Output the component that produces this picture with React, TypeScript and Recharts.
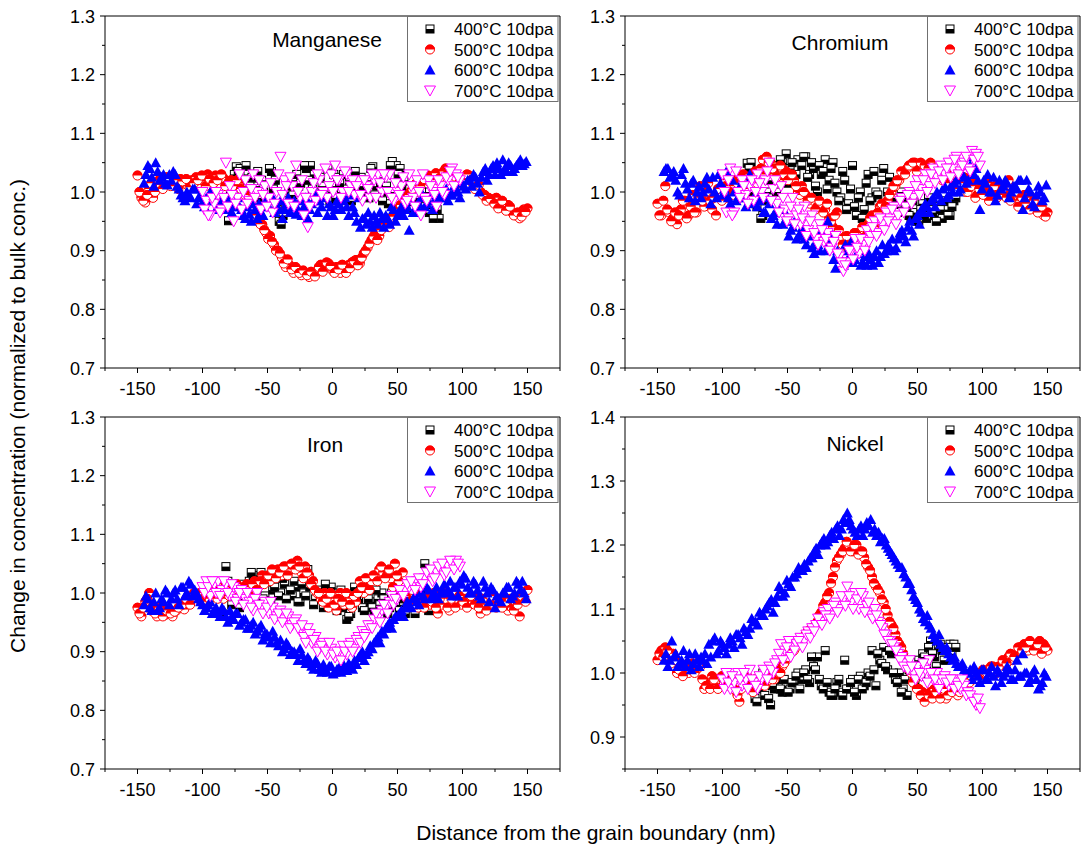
import { Scatter, ScatterChart, XAxis, YAxis } from "recharts";

// profiles sampled on a 3 nm grid; the "B" runs sit between the "A" samples
type Run = { from: number; step: number; y: number[] };

const X_TICKS = [-175, -150, -125, -100, -75, -50, -25, 0, 25, 50, 75, 100, 125, 150, 175];
const Y_TICKS_STD = [0.7, 0.75, 0.8, 0.85, 0.9, 0.95, 1.0, 1.05, 1.1, 1.15, 1.2, 1.25, 1.3];
const Y_TICKS_NI = [0.85, 0.9, 0.95, 1.0, 1.05, 1.1, 1.15, 1.2, 1.25, 1.3, 1.35, 1.4];
const SERIES_NAMES = ["400°C 10dpa", "500°C 10dpa", "600°C 10dpa", "700°C 10dpa"];

// Manganese
const MN_400: Run = { from: -80, step: 3, y: [
  0.951, 0.985, 1.043, 1.04, 1.02, 1.03, 1.025, 1.01, 0.99, 1.0,
  0.99, 1.035, 1.02, 0.95, 0.96, 0.97, 1.0, 1.02, 1.01, 0.99,
  1.04, 1.045, 1.03, 1.0, 1.01, 1.0, 0.985, 1.03, 1.025, 1.0,
  0.99, 1.02, 1.01, 1.02, 1.025, 1.0, 0.99, 1.043, 1.01, 1.015,
  1.0, 0.98, 1.052, 1.045, 1.04, 1.02, 1.0, 0.98, 0.99, 0.97,
  0.98, 1.0, 0.985, 0.96, 0.955,
] };
const MN_400B: Run = { from: -78.5, step: 3, y: [
  1.0, 1.03, 1.035, 1.0, 1.045, 1.01, 0.995, 1.035, 1.02, 0.985,
  1.04, 1.005, 0.97, 0.945, 0.985, 1.01, 0.995, 1.03, 1.015, 1.045,
  1.02, 1.005, 0.99, 1.025, 0.995, 1.04, 1.01, 0.99, 1.015, 1.03,
  1.005, 0.985, 1.035, 1.0, 1.01, 1.02, 1.04, 0.995, 1.025, 0.985,
  1.01, 1.045, 1.0, 1.03, 1.01, 0.99, 1.005, 0.97, 0.99, 1.0,
  0.975, 0.965, 0.955, 0.97,
] };
const MN_500: Run = { from: -150, step: 3, y: [
  1.028, 0.99, 0.982, 1.005, 0.99, 1.01, 1.012, 1.02, 1.014, 1.018,
  1.012, 1.022, 1.016, 1.01, 1.02, 1.025, 1.012, 1.018, 1.03, 1.022,
  1.028, 1.015, 1.024, 1.012, 1.02, 1.008, 1.014, 1.0, 0.995, 0.985,
  0.968, 0.955, 0.944, 0.93, 0.925, 0.91, 0.9, 0.888, 0.872, 0.875,
  0.862, 0.868, 0.858, 0.862, 0.855, 0.86, 0.865, 0.876, 0.87, 0.878,
  0.866, 0.872, 0.862, 0.868, 0.875, 0.88, 0.884, 0.878, 0.895, 0.905,
  0.918, 0.93, 0.925, 0.94, 0.948, 0.955, 0.962, 0.972, 0.98, 0.99,
  1.0, 1.01, 1.006, 1.018, 1.022, 1.016, 1.025, 1.02, 1.03, 1.04,
  1.025, 1.018, 1.02, 1.012, 1.024, 1.028, 1.014, 1.01, 1.0, 0.995,
  0.99, 0.984, 0.99, 0.978, 0.972, 0.978, 0.965, 0.96, 0.955, 0.97,
  0.972,
] };
const MN_500B: Run = { from: -148.5, step: 3, y: [
  1.0, 0.985, 0.995, 1.015, 1.0, 1.02, 1.005, 1.025, 1.01, 1.02,
  1.005, 1.018, 1.022, 1.008, 1.015, 1.02, 1.028, 1.01, 1.022, 1.015,
  1.02, 1.03, 1.01, 1.018, 1.01, 1.02, 1.005, 0.995, 0.985, 0.975,
  0.96, 0.945, 0.935, 0.92, 0.915, 0.9, 0.895, 0.878, 0.885, 0.868,
  0.872, 0.862, 0.866, 0.858, 0.864, 0.856, 0.872, 0.864, 0.88, 0.874,
  0.862, 0.868, 0.876, 0.862, 0.87, 0.882, 0.875, 0.888, 0.9, 0.912,
  0.924, 0.918, 0.935, 0.944, 0.94, 0.958, 0.97, 0.978, 0.985, 0.995,
  1.005, 1.015, 1.01, 1.022, 1.028, 1.02, 1.032, 1.024, 1.035, 1.03,
  1.02, 1.026, 1.015, 1.02, 1.03, 1.02, 1.005, 1.012, 0.995, 0.985,
  0.988, 0.98, 0.972, 0.985, 0.968, 0.975, 0.96, 0.965, 0.958, 0.966,
] };
const MN_600: Run = { from: -145, step: 3, y: [
  1.015, 1.045, 1.025, 1.05, 1.02, 1.03, 1.012, 1.02, 1.03, 1.005,
  0.99, 1.0, 0.99, 1.005, 0.99, 0.982, 0.99, 1.0, 0.985, 0.975,
  0.98, 0.97, 0.985, 0.975, 0.99, 0.97, 0.955, 0.962, 0.98, 0.955,
  0.965, 0.985, 0.975, 0.99, 0.978, 0.985, 0.97, 0.99, 0.975, 0.962,
  0.985, 0.975, 0.955, 0.98, 1.0, 0.985, 0.99, 0.96, 0.975, 0.97,
  0.98, 0.985, 0.975, 0.995, 0.965, 0.99, 0.955, 0.945, 0.95, 0.96,
  0.945, 0.955, 0.96, 0.945, 0.97, 0.96, 0.975, 0.97, 0.935, 0.965,
  0.975, 0.99, 0.975, 0.985, 0.97, 0.99, 0.99, 1.0, 0.985, 0.995,
  1.0, 0.99, 1.01, 1.02, 1.01, 1.025, 1.0, 1.035, 1.02, 1.04,
  1.03, 1.04, 1.055, 1.035, 1.045, 1.04, 1.05, 1.045, 1.052,
] };
const MN_600B: Run = { from: -143.5, step: 3, y: [
  1.03, 1.04, 1.01, 1.035, 1.025, 1.015, 1.03, 1.035, 1.01, 0.995,
  0.985, 0.995, 1.005, 0.98, 0.995, 0.975, 0.985, 0.99, 0.97, 0.985,
  0.975, 0.99, 0.965, 0.98, 0.975, 0.96, 0.975, 0.95, 0.97, 0.98,
  0.96, 0.975, 0.985, 0.965, 0.97, 0.955, 0.98, 0.965, 0.985, 0.97,
  0.96, 0.99, 0.97, 0.985, 0.965, 0.975, 0.995, 0.98, 0.96, 0.985,
  0.97, 0.99, 0.96, 0.975, 0.95, 0.94, 0.955, 0.965, 0.94, 0.95,
  0.965, 0.94, 0.955, 0.975, 0.95, 0.965, 0.96, 0.975, 0.985, 0.965,
  0.98, 0.995, 0.98, 0.995, 0.985, 1.0, 0.99, 1.005, 0.995, 1.01,
  1.0, 1.015, 1.005, 1.02, 1.03, 1.015, 1.025, 1.04, 1.03, 1.045,
  1.05, 1.03, 1.04, 1.05, 1.035, 1.045, 1.055, 1.048,
] };
const MN_700: Run = { from: -100, step: 3, y: [
  1.0, 0.985, 0.96, 0.98, 0.995, 0.97, 1.05, 1.01, 0.95, 0.99,
  0.97, 1.02, 0.985, 1.03, 1.0, 0.97, 1.01, 0.99, 0.965, 1.0,
  1.06, 1.02, 0.98, 1.01, 1.045, 0.99, 0.96, 0.94, 1.0, 0.985,
  1.02, 1.0, 0.99, 1.03, 1.045, 1.02, 1.0, 1.03, 1.01, 0.995,
  1.02, 0.985, 1.01, 0.99, 1.02, 1.03, 1.0, 1.025, 1.03, 0.985,
  1.0, 1.01, 0.98, 1.03, 0.99, 1.02, 0.96, 0.99, 1.02, 1.0,
  0.975, 1.01, 0.995, 1.02, 1.04, 1.03, 1.02,
] };
const MN_700B: Run = { from: -98.5, step: 3, y: [
  0.97, 0.96, 0.99, 1.0, 0.965, 0.99, 0.975, 0.995, 0.98, 1.03,
  1.0, 0.98, 1.005, 0.99, 1.02, 0.995, 0.975, 1.015, 0.98, 1.03,
  0.995, 1.01, 1.025, 0.975, 1.0, 1.02, 0.99, 0.975, 1.015, 1.03,
  0.995, 1.04, 1.01, 1.0, 1.02, 0.99, 1.035, 1.0, 1.02, 1.01,
  0.995, 1.02, 1.005, 1.03, 0.99, 1.015, 1.03, 1.0, 0.99, 1.015,
  0.995, 1.025, 0.985, 1.01, 0.975, 1.0, 1.03, 0.985, 1.01, 0.995,
  1.02, 1.0, 1.025, 1.035, 1.01, 1.025,
] };

// Chromium
const CR_400: Run = { from: -81, step: 3, y: [
  1.049, 1.05, 1.02, 0.99, 0.96, 1.0, 0.99, 1.03, 1.045, 1.05,
  1.065, 1.04, 1.02, 1.055, 1.045, 1.06, 1.03, 1.04, 1.0, 1.03,
  1.055, 1.02, 1.05, 1.0, 0.99, 1.02, 0.98, 1.045, 0.96, 1.0,
  0.97, 1.03, 0.99, 1.0, 0.97, 1.04, 1.0, 0.98, 1.01, 0.975,
  0.99, 0.97, 0.955, 0.965, 0.95, 0.98, 0.955, 0.97, 0.96, 0.975,
  0.955, 0.97, 0.96, 0.985,
] };
const CR_400B: Run = { from: -79.5, step: 3, y: [
  1.04, 1.0, 0.975, 0.955, 0.985, 1.02, 1.04, 1.0, 1.055, 1.035,
  1.015, 1.05, 1.03, 1.0, 1.06, 1.025, 1.05, 1.01, 1.045, 1.035,
  1.005, 1.04, 1.015, 0.985, 1.035, 0.97, 1.005, 0.975, 0.99, 0.955,
  1.015, 0.985, 1.035, 0.995, 1.02, 0.98, 1.025, 0.99, 0.965, 1.0,
  0.975, 0.96, 0.985, 0.95, 0.97, 0.96, 0.99, 0.965, 0.95, 0.97,
  0.985, 0.96, 0.975, 0.99,
] };
const CR_500: Run = { from: -150, step: 3, y: [
  0.98, 0.96, 1.01, 0.965, 0.955, 0.945, 0.97, 0.985, 0.96, 0.995,
  0.965, 1.01, 0.975, 1.015, 0.97, 0.96, 1.0, 1.02, 0.99, 1.01,
  1.02, 1.0, 1.03, 1.01, 1.02, 1.035, 1.0, 1.055, 1.06, 1.05,
  1.03, 1.02, 1.04, 1.035, 1.025, 1.02, 1.0, 1.01, 0.995, 0.98,
  0.985, 0.975, 0.98, 0.97, 0.955, 0.94, 0.965, 0.925, 0.91, 0.9,
  0.915, 0.93, 0.92, 0.935, 0.945, 0.96, 0.95, 0.975, 0.965, 0.985,
  1.0, 1.01, 1.02, 1.03, 1.04, 1.045, 1.05, 1.04, 1.045, 1.035,
  1.05, 1.04, 1.03, 1.02, 1.03, 1.01, 1.025, 1.02, 1.01, 1.0,
  1.025, 1.015, 0.995, 1.01, 1.0, 0.985, 1.0, 0.99, 1.01, 0.995,
  1.02, 1.0, 0.99, 0.985, 0.995, 0.98, 0.99, 0.975, 0.97, 0.96,
  0.965,
] };
const CR_500B: Run = { from: -148.5, step: 3, y: [
  0.96, 0.985, 0.97, 0.95, 0.965, 0.96, 0.985, 0.955, 0.975, 0.965,
  0.99, 0.985, 1.0, 0.985, 0.99, 1.005, 0.985, 1.01, 1.0, 0.995,
  1.015, 1.025, 1.005, 1.02, 1.03, 1.015, 1.04, 1.03, 1.05, 1.04,
  1.025, 1.045, 1.03, 1.02, 1.03, 1.01, 0.995, 1.0, 0.985, 0.99,
  0.97, 0.985, 0.965, 0.98, 0.95, 0.96, 0.935, 0.91, 0.925, 0.905,
  0.93, 0.915, 0.94, 0.925, 0.955, 0.94, 0.965, 0.98, 0.975, 0.995,
  1.01, 1.02, 1.035, 1.03, 1.045, 1.05, 1.035, 1.05, 1.045, 1.04,
  1.03, 1.035, 1.025, 1.02, 1.015, 1.03, 1.005, 1.015, 1.025, 1.0,
  1.01, 0.99, 1.005, 0.995, 1.015, 1.0, 1.01, 0.995, 1.005, 0.99,
  0.985, 1.0, 0.975, 0.99, 0.98, 0.97, 0.985, 0.965, 0.975, 0.958,
] };
const CR_600: Run = { from: -145, step: 3, y: [
  1.035, 1.04, 1.03, 1.02, 0.995, 1.04, 1.005, 1.015, 0.985, 1.01,
  1.0, 1.025, 0.98, 1.0, 1.03, 0.995, 1.035, 0.98, 1.0, 0.99,
  1.02, 0.975, 1.03, 0.99, 0.975, 1.0, 0.965, 0.98, 0.96, 0.945,
  0.97, 0.95, 0.925, 0.94, 0.92, 0.93, 0.92, 0.935, 0.905, 0.915,
  0.9, 0.925, 0.95, 0.93, 0.87, 0.89, 0.875, 0.9, 0.915, 0.885,
  0.9, 0.88, 0.875, 0.885, 0.89, 0.88, 0.91, 0.9, 0.905, 0.9,
  0.92, 0.935, 0.915, 0.95, 0.925, 0.96, 0.97, 0.98, 0.965, 0.99,
  1.0, 0.985, 1.01, 0.995, 1.0, 1.02, 1.005, 1.025, 1.02, 1.06,
  1.04, 0.97, 1.02, 1.03, 1.0, 0.985, 1.02, 1.01, 1.015, 1.0,
  1.01, 1.02, 0.97, 1.02, 1.0, 0.975, 1.01, 0.985, 1.012,
] };
const CR_600B: Run = { from: -143.5, step: 3, y: [
  1.04, 1.025, 1.035, 1.0, 1.03, 1.015, 0.99, 1.02, 1.0, 0.99,
  1.015, 1.005, 1.025, 0.99, 1.015, 1.005, 0.99, 1.02, 0.985, 1.01,
  0.99, 1.015, 0.98, 0.995, 0.985, 0.965, 0.99, 0.955, 0.965, 0.97,
  0.945, 0.96, 0.935, 0.95, 0.925, 0.94, 0.91, 0.925, 0.895, 0.91,
  0.935, 0.9, 0.915, 0.885, 0.9, 0.885, 0.91, 0.89, 0.88, 0.895,
  0.875, 0.89, 0.895, 0.875, 0.9, 0.89, 0.895, 0.91, 0.92, 0.905,
  0.93, 0.925, 0.94, 0.935, 0.955, 0.945, 0.965, 0.975, 0.985, 0.975,
  0.995, 1.005, 0.99, 1.01, 1.015, 1.0, 1.03, 1.015, 1.045, 1.03,
  1.02, 1.005, 1.015, 1.0, 1.025, 0.995, 1.005, 1.02, 0.99, 1.01,
  1.005, 1.02, 0.99, 1.005, 0.98, 0.995, 1.0, 0.99,
] };
const CR_700: Run = { from: -100, step: 3, y: [
  1.03, 0.965, 1.04, 0.965, 1.0, 1.02, 0.995, 1.01, 0.985, 1.03,
  1.0, 1.02, 1.05, 1.005, 0.98, 1.01, 0.97, 0.955, 0.99, 0.96,
  0.945, 0.975, 0.935, 0.96, 0.92, 0.945, 0.915, 0.93, 0.905, 0.925,
  0.89, 0.865, 0.88, 0.9, 0.92, 0.895, 0.91, 0.935, 0.925, 0.95,
  0.93, 0.945, 0.965, 0.955, 0.975, 0.96, 0.99, 0.975, 1.0, 0.99,
  1.02, 1.005, 1.03, 1.01, 1.04, 1.025, 1.045, 1.03, 1.05, 1.04,
  1.06, 1.035, 1.05, 1.04, 1.07, 1.065, 1.045,
] };
const CR_700B: Run = { from: -98.5, step: 3, y: [
  1.0, 1.02, 0.96, 1.035, 0.99, 1.01, 0.98, 1.02, 1.0, 1.015,
  0.99, 1.035, 0.985, 1.02, 0.965, 0.99, 0.95, 0.975, 0.945, 0.97,
  0.955, 0.925, 0.95, 0.93, 0.91, 0.935, 0.92, 0.9, 0.915, 0.895,
  0.88, 0.875, 0.9, 0.885, 0.905, 0.92, 0.9, 0.915, 0.94, 0.925,
  0.955, 0.935, 0.95, 0.97, 0.945, 0.985, 0.965, 0.995, 0.98, 1.01,
  0.995, 1.02, 1.0, 1.03, 1.015, 1.035, 1.02, 1.04, 1.025, 1.055,
  1.03, 1.045, 1.06, 1.035, 1.055, 1.06,
] };

// Iron
const FE_400: Run = { from: -85, step: 3, y: [
  0.965, 1.045, 1.0, 0.985, 1.01, 0.99, 1.0, 1.02, 1.03, 1.01,
  1.035, 0.995, 1.02, 1.005, 1.03, 1.0, 1.015, 1.04, 0.995, 1.01,
  0.985, 1.0, 1.04, 1.02, 0.99, 1.0, 0.975, 0.99, 1.01, 0.985,
  1.0, 0.975, 0.955, 0.965, 1.01, 0.99, 0.975, 1.0, 0.985, 0.97,
  0.99, 1.0, 0.985, 0.975, 0.99, 1.0, 0.98, 0.965, 1.01, 0.99,
  1.0, 0.98, 1.05, 0.97, 0.985, 0.975,
] };
const FE_400B: Run = { from: -83.5, step: 3, y: [
  1.0, 1.02, 0.98, 1.0, 0.975, 1.015, 0.995, 1.035, 1.0, 1.02,
  0.99, 1.025, 0.98, 1.01, 0.995, 1.025, 0.99, 1.005, 1.02, 0.985,
  1.015, 0.995, 1.01, 0.98, 1.005, 0.99, 1.015, 0.98, 0.995, 0.97,
  1.005, 0.98, 0.96, 0.98, 0.995, 1.005, 0.97, 0.99, 0.975, 1.005,
  0.98, 0.99, 0.965, 1.0, 0.98, 0.97, 0.99, 0.975, 0.995, 0.965,
  0.99, 1.005, 0.98, 0.97, 0.99,
] };
const FE_500: Run = { from: -150, step: 3, y: [
  0.975, 0.96, 0.985, 1.0, 0.975, 0.96, 0.97, 0.962, 0.965, 0.96,
  0.97, 0.975, 0.972, 0.985, 0.99, 0.995, 1.0, 0.99, 1.01, 0.995,
  1.0, 1.015, 0.99, 1.005, 1.0, 0.995, 1.01, 1.005, 1.015, 1.0,
  1.02, 1.01, 1.03, 1.025, 1.02, 1.035, 1.04, 1.03, 1.045, 1.04,
  1.05, 1.055, 1.035, 1.045, 1.03, 1.02, 1.0, 0.99, 1.0, 0.975,
  0.99, 0.97, 1.0, 0.98, 0.99, 0.975, 0.985, 1.02, 1.0, 1.01,
  1.02, 1.03, 1.04, 1.035, 1.03, 1.025, 1.05, 1.02, 1.035, 1.0,
  0.99, 1.0, 0.975, 0.985, 0.99, 0.98, 1.0, 0.965, 0.98, 0.99,
  0.97, 0.985, 0.99, 0.98, 0.99, 0.98, 0.985, 0.99, 0.965, 0.98,
  0.985, 0.99, 0.975, 0.98, 0.99, 0.97, 0.975, 0.985, 0.96, 0.99,
  1.005,
] };
const FE_500B: Run = { from: -148.5, step: 3, y: [
  0.965, 0.975, 0.99, 0.97, 0.965, 0.975, 0.96, 0.97, 0.965, 0.968,
  0.975, 0.98, 0.99, 0.98, 1.0, 0.99, 0.985, 1.0, 0.99, 1.005,
  0.99, 1.0, 1.01, 0.995, 1.005, 1.015, 1.0, 1.01, 0.995, 1.015,
  1.005, 1.02, 1.015, 1.03, 1.04, 1.025, 1.035, 1.045, 1.03, 1.05,
  1.04, 1.045, 1.025, 1.035, 1.015, 1.005, 1.0, 0.985, 0.99, 1.0,
  0.98, 0.99, 0.985, 1.0, 0.98, 0.995, 1.0, 1.01, 1.025, 1.005,
  1.03, 1.02, 1.045, 1.025, 1.04, 1.01, 1.03, 1.005, 0.995, 0.985,
  1.005, 0.98, 0.995, 0.975, 0.99, 0.985, 0.975, 0.99, 1.0, 0.975,
  0.99, 0.975, 0.995, 0.985, 0.975, 0.995, 0.98, 0.975, 0.99, 0.97,
  0.995, 0.98, 0.99, 0.975, 0.985, 0.99, 0.97, 0.98, 0.995, 0.985,
] };
const FE_600: Run = { from: -145, step: 3, y: [
  0.98, 0.99, 0.97, 1.0, 0.975, 0.985, 1.0, 0.99, 1.005, 0.98,
  1.01, 1.0, 1.015, 1.005, 0.99, 0.98, 0.975, 0.985, 0.97, 0.965,
  0.975, 0.96, 0.97, 0.955, 0.965, 0.95, 0.955, 0.94, 0.95, 0.935,
  0.945, 0.93, 0.925, 0.935, 0.915, 0.92, 0.905, 0.91, 0.9, 0.895,
  0.905, 0.885, 0.89, 0.875, 0.885, 0.87, 0.878, 0.865, 0.875, 0.865,
  0.872, 0.88, 0.868, 0.875, 0.885, 0.89, 0.9, 0.895, 0.91, 0.915,
  0.925, 0.935, 0.94, 0.95, 0.955, 0.96, 0.97, 0.975, 0.98, 0.99,
  0.985, 1.0, 0.99, 1.005, 0.995, 1.01, 1.0, 1.015, 1.005, 0.995,
  1.01, 1.02, 1.03, 1.01, 1.0, 1.015, 0.995, 1.02, 1.0, 1.01,
  0.975, 0.99, 1.0, 1.01, 0.99, 1.0, 1.015, 1.02, 0.99,
] };
const FE_600B: Run = { from: -143.5, step: 3, y: [
  0.995, 0.975, 0.985, 0.97, 0.99, 1.005, 0.98, 1.0, 0.99, 1.01,
  0.995, 1.02, 0.995, 1.0, 0.985, 0.97, 0.98, 0.965, 0.975, 0.96,
  0.97, 0.95, 0.96, 0.965, 0.945, 0.955, 0.94, 0.945, 0.93, 0.94,
  0.92, 0.93, 0.915, 0.925, 0.91, 0.9, 0.915, 0.895, 0.9, 0.885,
  0.895, 0.88, 0.885, 0.87, 0.88, 0.865, 0.87, 0.875, 0.862, 0.87,
  0.865, 0.872, 0.88, 0.87, 0.878, 0.895, 0.885, 0.9, 0.905, 0.92,
  0.915, 0.93, 0.945, 0.94, 0.96, 0.965, 0.96, 0.985, 0.975, 0.995,
  0.98, 0.995, 1.01, 0.99, 1.0, 0.99, 1.005, 1.0, 1.02, 1.01,
  0.995, 1.015, 1.025, 1.0, 1.02, 1.005, 0.99, 1.01, 0.985, 1.005,
  0.995, 0.985, 1.0, 1.01, 0.995, 1.02, 1.005, 1.0,
] };
const FE_700: Run = { from: -100, step: 3, y: [
  1.01, 1.02, 0.995, 1.015, 1.02, 1.005, 1.015, 0.995, 1.01, 0.99,
  1.005, 0.99, 0.985, 0.97, 1.0, 0.975, 0.985, 0.965, 0.975, 0.96,
  0.97, 0.955, 0.96, 0.945, 0.955, 0.935, 0.925, 0.94, 0.915, 0.925,
  0.905, 0.915, 0.895, 0.905, 0.89, 0.9, 0.91, 0.895, 0.915, 0.905,
  0.925, 0.935, 0.93, 0.945, 0.955, 0.96, 0.97, 0.975, 0.985, 0.98,
  0.99, 1.0, 1.005, 1.01, 1.015, 1.02, 1.01, 1.025, 1.03, 1.02,
  1.035, 1.04, 1.03, 1.045, 1.05, 1.055, 1.045,
] };
const FE_700B: Run = { from: -98.5, step: 3, y: [
  1.0, 1.01, 1.02, 1.0, 0.995, 1.02, 1.0, 1.015, 0.985, 1.0,
  0.98, 1.0, 0.975, 0.99, 0.98, 0.965, 0.975, 0.985, 0.955, 0.965,
  0.95, 0.965, 0.94, 0.95, 0.94, 0.945, 0.915, 0.93, 0.92, 0.9,
  0.91, 0.9, 0.915, 0.895, 0.9, 0.885, 0.9, 0.91, 0.9, 0.92,
  0.915, 0.925, 0.945, 0.94, 0.965, 0.95, 0.98, 0.965, 0.995, 0.99,
  1.005, 0.995, 1.015, 1.02, 1.005, 1.025, 1.015, 1.035, 1.04, 1.025,
  1.045, 1.05, 1.035, 1.055, 1.04, 1.05,
] };

// Nickel
const NI_400: Run = { from: -75, step: 3, y: [
  0.96, 0.975, 1.0, 0.99, 0.95, 0.975, 0.99, 0.97, 0.98, 0.975,
  0.985, 1.0, 0.99, 1.005, 0.985, 1.01, 1.025, 0.98, 1.035, 0.97,
  0.965, 0.985, 0.97, 1.02, 0.975, 0.99, 0.965, 0.995, 0.98, 1.0,
  1.035, 0.98, 1.02, 1.04, 1.005, 1.03, 0.99, 1.0, 0.975, 0.965,
  1.0, 0.985, 1.02, 1.03, 1.01, 1.05, 1.025, 1.04, 1.035, 1.02,
  1.045, 1.045,
] };
const NI_400B: Run = { from: -73.5, step: 3, y: [
  0.955, 0.985, 0.965, 0.96, 0.98, 0.995, 0.975, 0.99, 0.97, 0.985,
  0.995, 0.975, 1.0, 0.99, 1.025, 1.005, 0.99, 0.975, 0.985, 0.965,
  0.975, 0.99, 0.965, 0.975, 0.985, 0.97, 0.99, 0.975, 0.985, 0.995,
  1.005, 1.03, 1.015, 1.01, 1.035, 1.0, 0.985, 0.97, 0.99, 1.005,
  0.99, 1.01, 0.995, 1.025, 1.04, 1.03, 1.01, 1.045, 1.02, 1.04,
  1.03, 1.04,
] };
const NI_500: Run = { from: -150, step: 3, y: [
  1.02, 1.035, 1.04, 1.025, 1.03, 1.0, 1.015, 1.01, 1.0, 1.015,
  1.005, 1.01, 0.975, 0.985, 0.995, 0.98, 0.99, 0.985, 0.995, 0.98,
  0.99, 0.955, 0.985, 0.995, 0.975, 0.99, 0.98, 0.995, 0.985, 1.0,
  0.99, 1.0, 1.01, 1.02, 1.03, 1.035, 1.045, 1.055, 1.06, 1.065,
  1.07, 1.08, 1.095, 1.11, 1.125, 1.15, 1.175, 1.185, 1.195, 1.2,
  1.19, 1.2, 1.19, 1.18, 1.165, 1.15, 1.135, 1.125, 1.11, 1.09,
  1.075, 1.06, 1.045, 1.03, 1.015, 1.0, 0.99, 0.975, 0.97, 0.96,
  0.97, 0.975, 0.965, 0.97, 0.96, 0.975, 0.97, 0.965, 0.98, 0.975,
  0.985, 0.99, 1.0, 0.995, 1.0, 1.005, 1.01, 1.0, 1.005, 1.015,
  1.025, 1.02, 1.03, 1.04, 1.045, 1.035, 1.045, 1.04, 1.05, 1.045,
  1.035,
] };
const NI_500B: Run = { from: -148.5, step: 3, y: [
  1.03, 1.025, 1.035, 1.015, 1.02, 1.005, 0.995, 1.01, 1.005, 1.0,
  1.015, 0.99, 0.98, 0.975, 0.99, 0.975, 0.995, 0.98, 0.99, 0.975,
  0.965, 0.975, 0.99, 0.98, 0.97, 0.985, 0.99, 0.98, 0.995, 0.99,
  1.005, 1.0, 1.015, 1.025, 1.035, 1.04, 1.05, 1.055, 1.065, 1.07,
  1.075, 1.09, 1.105, 1.12, 1.14, 1.165, 1.18, 1.19, 1.205, 1.19,
  1.2, 1.185, 1.19, 1.17, 1.16, 1.14, 1.13, 1.115, 1.1, 1.08,
  1.07, 1.05, 1.04, 1.02, 1.005, 0.985, 0.975, 0.965, 0.955, 0.965,
  0.96, 0.97, 0.96, 0.975, 0.965, 0.97, 0.98, 0.97, 0.985, 0.99,
  0.995, 1.0, 0.99, 1.005, 1.0, 1.01, 1.005, 1.01, 1.02, 1.015,
  1.03, 1.025, 1.04, 1.035, 1.04, 1.05, 1.035, 1.045, 1.03, 1.04,
] };
const NI_600: Run = { from: -145, step: 3, y: [
  1.02, 1.01, 1.05, 1.03, 1.015, 1.035, 1.02, 1.005, 1.03, 1.01,
  1.02, 1.015, 1.025, 1.055, 1.035, 1.045, 1.03, 1.055, 1.04, 1.06,
  1.045, 1.065, 1.07, 1.08, 1.075, 1.09, 1.1, 1.11, 1.095, 1.12,
  1.13, 1.125, 1.14, 1.15, 1.155, 1.16, 1.17, 1.175, 1.18, 1.195,
  1.2, 1.21, 1.205, 1.22, 1.225, 1.215, 1.24, 1.25, 1.23, 1.22,
  1.225, 1.215, 1.235, 1.24, 1.225, 1.22, 1.21, 1.2, 1.19, 1.18,
  1.17, 1.165, 1.15, 1.14, 1.12, 1.11, 1.095, 1.08, 1.075, 1.06,
  1.05, 1.045, 1.035, 1.03, 1.02, 1.015, 1.01, 1.005, 1.0, 0.99,
  1.0, 0.985, 1.005, 0.99, 1.01, 0.98, 1.0, 0.995, 1.01, 0.99,
  1.005, 0.995, 1.03, 1.0, 0.99, 1.005, 0.975, 0.985, 0.995,
] };
const NI_600B: Run = { from: -143.5, step: 3, y: [
  1.03, 1.02, 1.025, 1.01, 1.02, 1.01, 1.03, 1.015, 1.02, 1.025,
  1.03, 1.045, 1.05, 1.03, 1.05, 1.04, 1.045, 1.05, 1.06, 1.055,
  1.07, 1.06, 1.085, 1.08, 1.095, 1.09, 1.105, 1.115, 1.11, 1.135,
  1.12, 1.145, 1.135, 1.15, 1.165, 1.16, 1.165, 1.18, 1.19, 1.185,
  1.205, 1.2, 1.215, 1.21, 1.23, 1.225, 1.235, 1.24, 1.225, 1.215,
  1.23, 1.225, 1.23, 1.22, 1.215, 1.205, 1.21, 1.195, 1.185, 1.175,
  1.165, 1.155, 1.14, 1.13, 1.115, 1.1, 1.085, 1.09, 1.07, 1.055,
  1.06, 1.04, 1.04, 1.025, 1.025, 1.01, 1.015, 1.0, 1.005, 1.01,
  0.995, 1.005, 0.99, 1.0, 0.995, 1.005, 0.985, 1.0, 1.005, 0.99,
  1.02, 0.995, 1.0, 0.985, 1.0, 0.99, 0.98, 1.0,
] };
const NI_700: Run = { from: -100, step: 3, y: [
  0.99, 1.0, 0.975, 0.985, 1.0, 0.98, 0.99, 1.005, 0.985, 0.975,
  0.99, 1.0, 1.01, 1.0, 1.02, 1.045, 1.035, 1.05, 1.04, 1.045,
  1.055, 1.05, 1.065, 1.07, 1.075, 1.08, 1.095, 1.1, 1.09, 1.11,
  1.1, 1.115, 1.135, 1.11, 1.125, 1.1, 1.12, 1.105, 1.09, 1.1,
  1.08, 1.07, 1.06, 1.05, 1.04, 1.03, 1.025, 1.015, 1.02, 1.0,
  1.01, 0.995, 1.005, 1.02, 0.99, 1.0, 0.985, 0.995, 0.98, 0.99,
  0.985, 0.975, 0.98, 0.97, 0.96, 0.95, 0.945,
] };
const NI_700B: Run = { from: -98.5, step: 3, y: [
  0.975, 0.985, 0.995, 0.97, 0.99, 1.0, 0.975, 0.99, 0.98, 0.995,
  1.005, 0.99, 1.005, 1.015, 1.03, 1.02, 1.04, 1.025, 1.035, 1.05,
  1.04, 1.06, 1.055, 1.065, 1.085, 1.075, 1.09, 1.085, 1.105, 1.095,
  1.12, 1.105, 1.12, 1.1, 1.115, 1.125, 1.095, 1.11, 1.085, 1.09,
  1.075, 1.06, 1.05, 1.045, 1.035, 1.02, 1.01, 1.005, 1.01, 0.99,
  1.0, 1.015, 0.985, 1.0, 0.99, 0.975, 0.99, 0.985, 0.99, 0.975,
  0.98, 0.99, 0.965, 0.965, 0.955, 0.96,
] };

const toPoints = (runs: Run[]) =>
  runs.flatMap((r) => r.y.map((y, i) => ({ x: r.from + i * r.step, y })));

// marker shapes
const Square = ({ cx, cy }: any) => (
  <g>
    <rect x={cx - 4} y={cy - 4} width={8} height={8} fill="#fff" stroke="#000" strokeWidth={1} />
    <rect x={cx - 4} y={cy} width={8} height={4} fill="#000" />
  </g>
);
const HalfCircle = ({ cx, cy }: any) => (
  <g>
    <circle cx={cx} cy={cy} r={4.5} fill="#fff" stroke="#ff0000" strokeWidth={1} />
    <path d={`M${cx - 5},${cy} A5,5 0 0 1 ${cx + 5},${cy} Z`} fill="#ff0000" />
  </g>
);
const UpTriangle = ({ cx, cy }: any) => (
  <path d={`M${cx},${cy - 5.5} L${cx + 5.5},${cy + 4.5} L${cx - 5.5},${cy + 4.5} Z`} fill="#0000ff" />
);
const DownTriangle = ({ cx, cy }: any) => (
  <path
    d={`M${cx - 5.5},${cy - 4.5} L${cx + 5.5},${cy - 4.5} L${cx},${cy + 5.5} Z`}
    fill="#fff"
    stroke="#ff00ff"
    strokeWidth={1}
  />
);
const MARKERS = [Square, HalfCircle, UpTriangle, DownTriangle];

const FONT = '"Liberation Sans", Arial, sans-serif';
const YAXIS_W = 50;
const TOP_PAD = 15;
const PLOT_W = 455;
const PLOT_H = 352;
const CHART_W = YAXIS_W + PLOT_W + 5;
const CHART_H = TOP_PAD + PLOT_H + 30;

const xTick = (p: any) => {
  const v = p.payload.value;
  const major = v % 50 === 0;
  return (
    <g>
      <line x1={p.x} x2={p.x} y1={p.y} y2={p.y + (major ? 5 : 3)} stroke="#000" />
      {major && Math.abs(v) <= 150 && (
        <text x={p.x} y={p.y + 27} textAnchor="middle" fontSize={18} fill="#000">
          {v}
        </text>
      )}
    </g>
  );
};

const yTick = (p: any) => {
  const v = p.payload.value;
  const major = Math.abs(v * 10 - Math.round(v * 10)) < 1e-6;
  return (
    <g>
      <line x1={p.x - (major ? 5 : 3)} x2={p.x} y1={p.y} y2={p.y} stroke="#000" />
      {major && (
        <text x={p.x - 10} y={p.y + 6.5} textAnchor="end" fontSize={18} fill="#000">
          {v.toFixed(1)}
        </text>
      )}
    </g>
  );
};

type PanelProps = {
  left: number;
  top: number;
  title: string;
  titleX: number;
  titleY: number;
  yTicks: number[];
  series: Run[][];
};

function Panel({ left, top, title, titleX, titleY, yTicks, series }: PanelProps) {
  return (
    <div style={{ position: "absolute", left, top, width: CHART_W, height: CHART_H }}>
      <ScatterChart width={CHART_W} height={CHART_H} margin={{ top: TOP_PAD - 5, right: 0, bottom: 0, left: 0 }}>
        <XAxis
          xAxisId="top"
          orientation="top"
          type="number"
          domain={[-175, 175]}
          height={5}
          tick={false}
          tickLine={false}
          axisLine={{ stroke: "#000" }}
        />
        <XAxis
          type="number"
          dataKey="x"
          domain={[-175, 175]}
          ticks={X_TICKS}
          interval={0}
          height={30}
          tickSize={0}
          tickMargin={0}
          tickLine={false}
          tick={xTick}
          axisLine={{ stroke: "#000" }}
        />
        <YAxis
          type="number"
          dataKey="y"
          domain={[yTicks[0], yTicks[yTicks.length - 1]]}
          ticks={yTicks}
          interval={0}
          width={YAXIS_W}
          tickSize={0}
          tickMargin={0}
          tickLine={false}
          tick={yTick}
          axisLine={{ stroke: "#000" }}
        />
        <YAxis
          yAxisId="right"
          orientation="right"
          type="number"
          domain={[0, 1]}
          width={5}
          tick={false}
          tickLine={false}
          axisLine={{ stroke: "#000" }}
        />
        {series.map((runs, i) => (
          <Scatter
            key={SERIES_NAMES[i]}
            name={SERIES_NAMES[i]}
            data={toPoints(runs)}
            shape={MARKERS[i]}
            isAnimationActive={false}
          />
        ))}
      </ScatterChart>
      <svg
        width={PLOT_W}
        height={PLOT_H}
        style={{ position: "absolute", left: YAXIS_W, top: TOP_PAD, overflow: "visible", pointerEvents: "none" }}
      >
        <text x={titleX} y={titleY} textAnchor="middle" fontSize={21} fill="#000">
          {title}
        </text>
        <g transform="translate(302,0)">
          <rect x={0.5} y={0.5} width={150.5} height={85} fill="#fff" stroke="#707070" />
          {SERIES_NAMES.map((name, i) => {
            const M = MARKERS[i];
            const cy = 13 + i * 20.5;
            return (
              <g key={name}>
                <M cx={23} cy={cy} />
                <text x={47} y={cy + 6} fontSize={17} fill="#000">
                  {name}
                </text>
              </g>
            );
          })}
        </g>
      </svg>
    </div>
  );
}

export default function App() {
  return (
    <div
      style={{
        position: "absolute",
        left: 0,
        top: 0,
        width: 1083,
        height: 851,
        overflow: "hidden",
        background: "#fff",
        fontFamily: FONT,
      }}
    >
      <svg width={1083} height={851} style={{ position: "absolute", left: 0, top: 0 }}>
        <text transform="translate(25,416) rotate(-90)" textAnchor="middle" fontSize={21} fill="#000">
          Change in concentration (normalized to bulk conc.)
        </text>
        <text x={596} y={840} textAnchor="middle" fontSize={21} fill="#000">
          Distance from the grain boundary (nm)
        </text>
      </svg>
      <Panel left={55} top={16 - TOP_PAD} title="Manganese" titleX={222} titleY={30.5} yTicks={Y_TICKS_STD}
        series={[[MN_400, MN_400B], [MN_500, MN_500B], [MN_600, MN_600B], [MN_700, MN_700B]]} />
      <Panel left={575} top={16 - TOP_PAD} title="Chromium" titleX={215} titleY={34} yTicks={Y_TICKS_STD}
        series={[[CR_400, CR_400B], [CR_500, CR_500B], [CR_600, CR_600B], [CR_700, CR_700B]]} />
      <Panel left={55} top={417 - TOP_PAD} title="Iron" titleX={220} titleY={34.5} yTicks={Y_TICKS_STD}
        series={[[FE_400, FE_400B], [FE_500, FE_500B], [FE_600, FE_600B], [FE_700, FE_700B]]} />
      <Panel left={575} top={417 - TOP_PAD} title="Nickel" titleX={230} titleY={33.5} yTicks={Y_TICKS_NI}
        series={[[NI_400, NI_400B], [NI_500, NI_500B], [NI_600, NI_600B], [NI_700, NI_700B]]} />
    </div>
  );
}
